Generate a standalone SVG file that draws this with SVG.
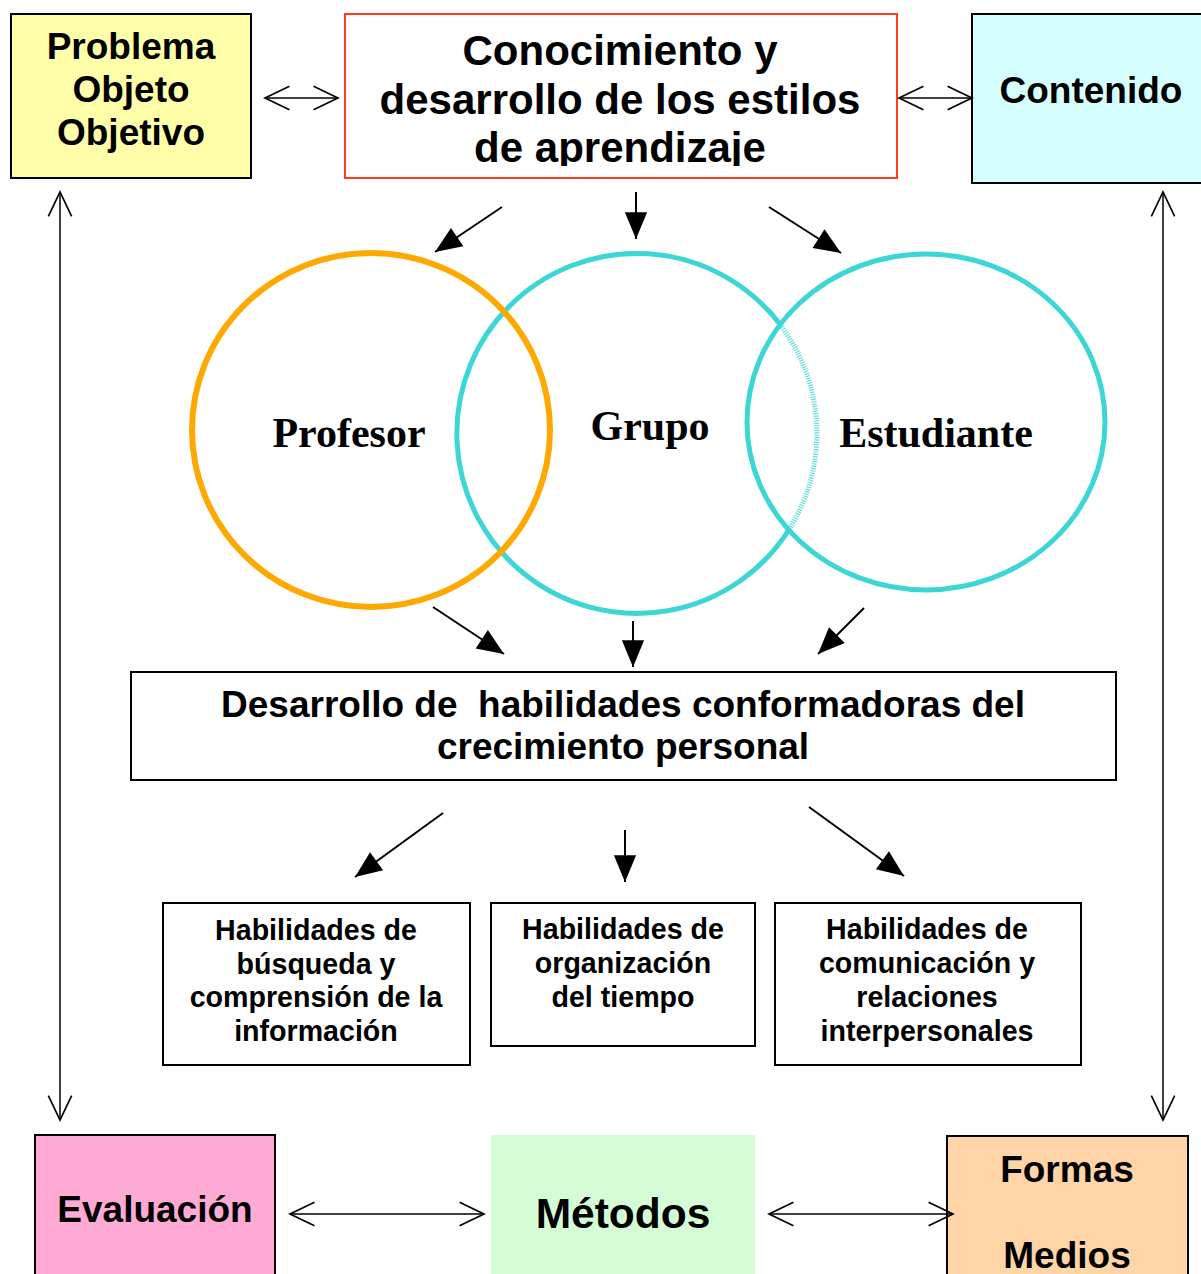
<svg xmlns="http://www.w3.org/2000/svg" width="1201" height="1274" viewBox="0 0 1201 1274">
<style>
.box{stroke:#000;stroke-width:2}
.t{font-family:"Liberation Sans",Arial,sans-serif;font-weight:bold;fill:#000;text-anchor:middle}
.tr{font-family:"Liberation Serif","Times New Roman",serif;font-weight:bold;fill:#000;text-anchor:middle;font-size:42px}
.c{stroke:#000;stroke-width:2;fill:none}
.d{stroke:#000;stroke-width:1.5;fill:none}
</style>
<defs>
<marker id="fa" markerUnits="userSpaceOnUse" markerWidth="30" markerHeight="30" viewBox="-25 -12 27 24" refX="0" refY="0" orient="auto" overflow="visible">
<path d="M-24,-10 L0,0 L-24,10 z" fill="#000"/>
</marker>
<marker id="oa" markerUnits="userSpaceOnUse" markerWidth="30" markerHeight="30" viewBox="-25 -12 27 24" refX="0" refY="0" orient="auto-start-reverse" overflow="visible">
<path d="M-22,-10.5 L0,0 L-22,10.5" fill="none" stroke="#000" stroke-width="1.5"/>
</marker>
<clipPath id="titleclip"><rect x="345" y="14" width="552" height="152"/></clipPath>
</defs>

<g id="problema">
<rect class="box" x="11" y="14" width="240" height="164" fill="#FFFFAA"/>
<text class="t" font-size="37" x="131" y="59">Problema</text>
<text class="t" font-size="37" x="131" y="102">Objeto</text>
<text class="t" font-size="37" x="131" y="145">Objetivo</text>
</g>

<g id="conocimiento">
<rect x="345" y="14" width="552" height="164" fill="#fff" stroke="#FF3B1A" stroke-width="2"/>
<g clip-path="url(#titleclip)">
<text class="t" font-size="42" x="620" y="65">Conocimiento y</text>
<text class="t" font-size="42" x="620" y="114">desarrollo de los estilos</text>
<text class="t" font-size="42" x="620" y="162">de aprendizaje</text>
</g>
</g>

<g id="contenido">
<rect class="box" x="972" y="14" width="240" height="169" fill="#D5FFFF"/>
<text class="t" font-size="37" x="1091" y="103">Contenido</text>
</g>

<g id="grupo">
<path d="M779,323 A180,180 0 1 0 790,528" fill="none" stroke="#3DD6D6" stroke-width="5"/>
<path d="M779,323 A180,180 0 0 1 790,528" fill="none" stroke="#3DD6D6" stroke-width="5" stroke-dasharray="1.2 1.2" opacity="0.8"/>
<text class="tr" x="650" y="440">Grupo</text>
</g>

<g id="estudiante">
<ellipse cx="926" cy="422" rx="179" ry="168" fill="none" stroke="#3DD6D6" stroke-width="5"/>
<text class="tr" x="936" y="447">Estudiante</text>
</g>

<g id="profesor">
<ellipse cx="371" cy="430" rx="179" ry="177" fill="none" stroke="#FFA800" stroke-width="6"/>
<text class="tr" x="349" y="447">Profesor</text>
</g>

<g id="desarrollo">
<rect class="box" x="131" y="672" width="985" height="108" fill="#fff"/>
<text class="t" font-size="37" x="623" y="717" xml:space="preserve">Desarrollo de  habilidades conformadoras del</text>
<text class="t" font-size="37" x="623" y="759">crecimiento personal</text>
</g>

<g id="hab1">
<rect class="box" x="163" y="903" width="307" height="162" fill="#fff"/>
<text class="t" font-size="28.6" x="316" y="940">Habilidades de</text>
<text class="t" font-size="28.6" x="316" y="974">búsqueda y</text>
<text class="t" font-size="28.6" x="316" y="1007">comprensión de la</text>
<text class="t" font-size="28.6" x="316" y="1041">información</text>
</g>

<g id="hab2">
<rect class="box" x="491" y="903" width="264" height="143" fill="#fff"/>
<text class="t" font-size="28.6" x="623" y="939">Habilidades de</text>
<text class="t" font-size="28.6" x="623" y="973">organización</text>
<text class="t" font-size="28.6" x="623" y="1007">del tiempo</text>
</g>

<g id="hab3">
<rect class="box" x="775" y="903" width="306" height="162" fill="#fff"/>
<text class="t" font-size="28.6" x="927" y="939">Habilidades de</text>
<text class="t" font-size="28.6" x="927" y="973">comunicación y</text>
<text class="t" font-size="28.6" x="927" y="1007">relaciones</text>
<text class="t" font-size="28.6" x="927" y="1041">interpersonales</text>
</g>

<g id="evaluacion">
<rect class="box" x="35" y="1135" width="240" height="150" fill="#FFAAD5"/>
<text class="t" font-size="37" x="155" y="1222">Evaluación</text>
</g>

<g id="metodos">
<rect x="491" y="1135" width="264" height="150" fill="#D5FDD5"/>
<text class="t" font-size="42.5" x="623" y="1228">Métodos</text>
</g>

<g id="formas">
<rect class="box" x="947" y="1136" width="241" height="150" fill="#FFD5A8"/>
<text class="t" font-size="37" x="1067" y="1182">Formas</text>
<text class="t" font-size="37" x="1067" y="1268">Medios</text>
</g>

<g id="connectors">
<line class="d" x1="265" y1="98" x2="338" y2="98" marker-start="url(#oa)" marker-end="url(#oa)"/>
<line class="d" x1="899" y1="98" x2="972" y2="98" marker-start="url(#oa)" marker-end="url(#oa)"/>
<line class="d" x1="60" y1="192" x2="60" y2="1120" marker-start="url(#oa)" marker-end="url(#oa)"/>
<line class="d" x1="1163" y1="192" x2="1163" y2="1120" marker-start="url(#oa)" marker-end="url(#oa)"/>
<line class="d" x1="290" y1="1214" x2="484" y2="1214" marker-start="url(#oa)" marker-end="url(#oa)"/>
<line class="d" x1="769" y1="1214" x2="953" y2="1214" marker-start="url(#oa)" marker-end="url(#oa)"/>

<line class="c" x1="502" y1="207" x2="435" y2="252" marker-end="url(#fa)"/>
<line class="c" x1="636" y1="192" x2="636" y2="239" marker-end="url(#fa)"/>
<line class="c" x1="769" y1="207" x2="841" y2="253" marker-end="url(#fa)"/>

<line class="c" x1="433" y1="607" x2="504" y2="654" marker-end="url(#fa)"/>
<line class="c" x1="633" y1="621" x2="633" y2="667" marker-end="url(#fa)"/>
<line class="c" x1="864" y1="608" x2="818" y2="654" marker-end="url(#fa)"/>

<line class="c" x1="443" y1="813" x2="355" y2="877" marker-end="url(#fa)"/>
<line class="c" x1="625" y1="830" x2="625" y2="882" marker-end="url(#fa)"/>
<line class="c" x1="809" y1="807" x2="904" y2="876" marker-end="url(#fa)"/>
</g>
</svg>
